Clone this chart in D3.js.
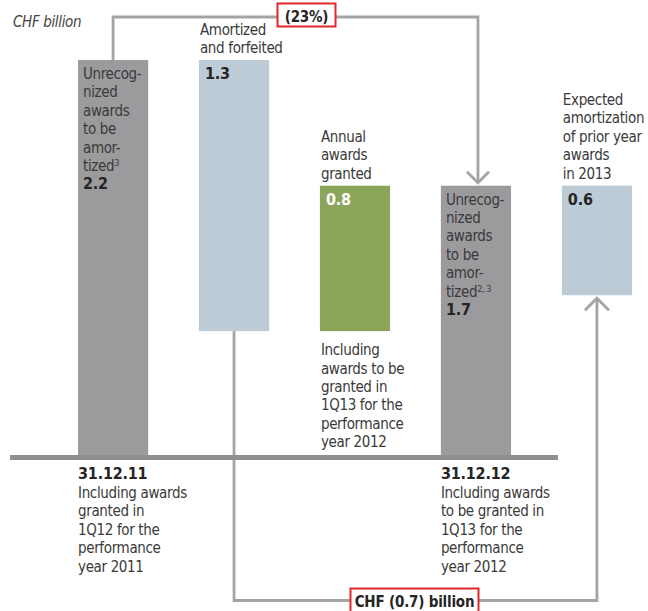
<!DOCTYPE html>
<html>
<head>
<meta charset="utf-8">
<script src="https://cdn.jsdelivr.net/npm/d3@7"></script>
<style>
  html, body { margin: 0; padding: 0; background: #fff; }
  svg { display: block; }
  text { font-family: "Liberation Sans Narrow", "Arial Narrow", "DejaVu Sans Condensed", sans-serif; font-size: 15px; fill: #3a3a3a; letter-spacing: -0.35px; }
  .bold { font-weight: bold; fill: #252525; letter-spacing: -0.2px; }
</style>
</head>
<body>
<svg id="chart" width="648" height="611"></svg>
<script>
// ---------- data ----------
const categories = ["31.12.11", "Amortized and forfeited", "Annual awards granted", "31.12.12", "Expected amortization 2013"];
const valueLabels = ["2.2", "1.3", "0.8", "1.7", "0.6"];
// bar extents (CHF billion) as drawn in the reference picture
const levelFrom = [0, 2.2, 0.69, 0, 1.5];
const levelTo   = [2.2, 0.69, 1.5, 1.5, 0.89];
const barKinds  = ["total", "decrease", "increase", "total", "decrease"];
// text blocks
const insideText = [
  ["Unrecog-", "nized", "awards", "to be", "amor-", ["tized", "3"]],
  [],
  [],
  ["Unrecog-", "nized", "awards", "to be", "amor-", ["tized", "2, 3"]],
  []
];
const aboveText = [
  [],
  ["Amortized", "and forfeited"],
  ["Annual", "awards", "granted"],
  [],
  ["Expected", "amortization", "of prior year", "awards", "in 2013"]
];
const belowBarText = [
  [], [],
  ["Including", "awards to be", "granted in", "1Q13 for the", "performance", "year 2012"],
  [], []
];
const axisDates = ["31.12.11", null, null, "31.12.12", null];
const axisNotes = [
  ["Including awards", "granted in", "1Q12 for the", "performance", "year 2011"],
  [], [],
  ["Including awards", "to be granted in", "1Q13 for the", "performance", "year 2012"],
  []
];
const unitLabel = "CHF billion";
const topChange = "(23%)";
const bottomChange = "CHF (0.7) billion";

// ---------- styles ----------
const colors = { total: "#9b9b9e", decrease: "#bdcbd6", increase: "#8ba65b" };
const lineColor = "#a4a4a7";
const boxRed = "#e3262c";
const lh = 18.4;

const svg = d3.select("#chart");

const x = d3.scaleBand().domain(categories).range([78, 632]).paddingInner(0.42).paddingOuter(0);
const y = d3.scaleLinear().domain([0, 2.2]).range([455, 60]);
const bw = x.bandwidth();
const cx = i => x(categories[i]) + bw / 2;

// unit label
svg.append("text").attr("x", 13).attr("y", 27).style("font-style", "italic").style("fill", "#444").text(unitLabel);

// connectors
const gLines = svg.append("g").attr("fill", "none").attr("stroke", lineColor).attr("stroke-width", 2.8);
const topY = 17;
gLines.append("path").attr("d", d3.line()([[cx(0), y(levelTo[0])], [cx(0), topY], [cx(3) + 2, topY], [cx(3) + 2, y(levelTo[3]) - 3]]));
gLines.append("path").attr("d", d3.line()([[cx(3) + 2 - 11, y(levelTo[3]) - 14], [cx(3) + 2, y(levelTo[3]) - 3], [cx(3) + 2 + 11, y(levelTo[3]) - 14]]));
const botY = 600.5;
gLines.append("path").attr("d", d3.line()([[cx(1), y(levelTo[1])], [cx(1), botY], [cx(4), botY], [cx(4), y(levelTo[4]) + 3]]));
gLines.append("path").attr("d", d3.line()([[cx(4) - 12, y(levelTo[4]) + 15], [cx(4), y(levelTo[4]) + 3], [cx(4) + 12, y(levelTo[4]) + 15]]));

// bars
svg.append("g").selectAll("rect").data(categories).join("rect")
  .attr("x", d => x(d))
  .attr("width", bw)
  .attr("y", (d, i) => y(Math.max(levelFrom[i], levelTo[i])))
  .attr("height", (d, i) => Math.abs(y(levelFrom[i]) - y(levelTo[i])))
  .attr("fill", (d, i) => colors[barKinds[i]]);

// axis baseline
svg.append("rect").attr("x", 10).attr("y", y(0)).attr("width", 548).attr("height", 5).attr("fill", "#8f8f92");

// inside text + value labels
categories.forEach((c, i) => {
  const top = y(Math.max(levelFrom[i], levelTo[i]));
  const lines = insideText[i];
  const left = x(c) + (lines.length ? 5 : 6);
  lines.forEach((ln, k) => {
    const t = svg.append("text").attr("x", left).attr("y", top + 19 + k * lh);
    if (Array.isArray(ln)) {
      t.append("tspan").text(ln[0]);
      t.append("tspan").attr("dy", -5).style("font-size", "9px").text(ln[1]);
    } else t.text(ln);
  });
  svg.append("text").attr("class", "bold")
    .attr("x", left).attr("y", top + 19 + lines.length * lh)
    .style("font-size", "16px")
    .style("fill", barKinds[i] === "increase" ? "#ffffff" : "#252525")
    .text(valueLabels[i]);
  // above-bar labels
  const ab = aboveText[i];
  ab.forEach((ln, k) => {
    svg.append("text").attr("x", x(c) + 1).attr("y", top - 7 - (ab.length - 1 - k) * lh).text(ln);
  });
  // below-bar labels
  const bl = belowBarText[i];
  const bottom = y(Math.min(levelFrom[i], levelTo[i]));
  bl.forEach((ln, k) => {
    svg.append("text").attr("x", x(c) + 1).attr("y", bottom + 24 + k * lh).text(ln);
  });
  // axis labels
  if (axisDates[i]) {
    svg.append("text").attr("class", "bold").attr("x", x(c)).attr("y", y(0) + 24).style("font-size", "16px").text(axisDates[i]);
  }
  axisNotes[i].forEach((ln, k) => {
    svg.append("text").attr("x", x(c)).attr("y", y(0) + 43 + k * lh).text(ln);
  });
});

// change boxes
function box(cxp, yTop, w, h, label, ty) {
  svg.append("rect").attr("x", cxp - w / 2).attr("y", yTop).attr("width", w).attr("height", h)
    .attr("fill", "#fff").attr("stroke", boxRed).attr("stroke-width", 2);
  svg.append("text").attr("class", "bold").attr("x", cxp).attr("y", ty).attr("text-anchor", "middle")
    .style("font-size", "15px").text(label);
}
box(306.5, 3.5, 58, 23, topChange, 21.5);
box(414.5, 588.5, 128, 30, bottomChange, 607);
</script>
</body>
</html>
